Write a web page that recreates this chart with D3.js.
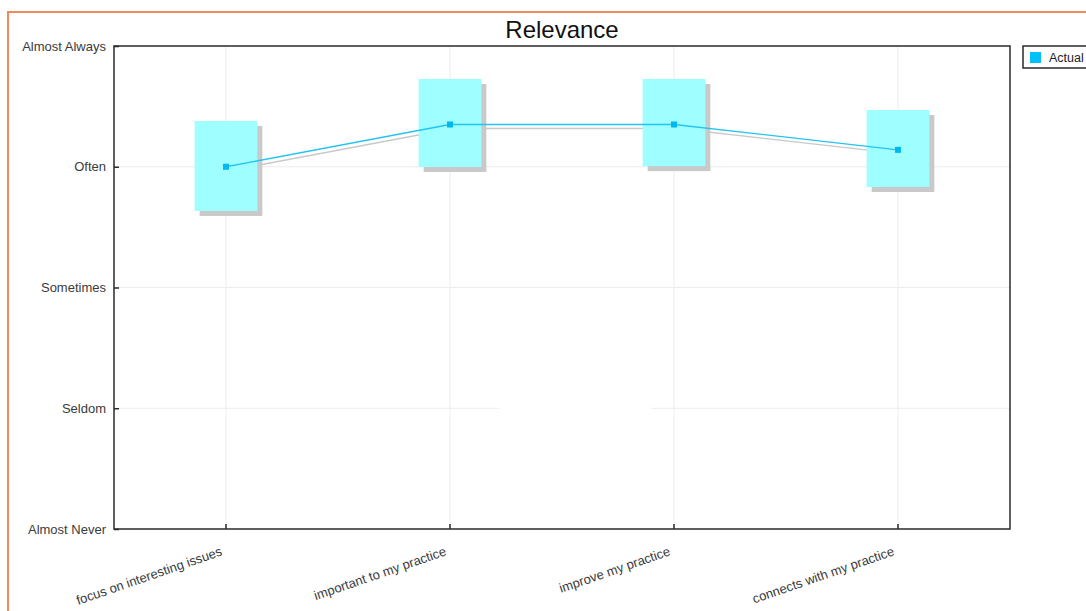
<!DOCTYPE html>
<html><head><meta charset="utf-8">
<script src="https://cdn.jsdelivr.net/npm/d3@7"></script>
<style>
html,body{margin:0;padding:0;background:#fff;}
svg{display:block;font-family:"Liberation Sans",Arial,sans-serif;}
</style></head>
<body>
<script>
const title = "Relevance";
const categories = ["focus on interesting issues","important to my practice","improve my practice","connects with my practice"];
const levelLabels = ["Almost Never","Seldom","Sometimes","Often","Almost Always"];
const actual = [3.0, 3.35, 3.35, 3.14];
const rangeLow = [2.634, 2.998, 3.005, 2.832];
const rangeHigh = [3.379, 3.727, 3.727, 3.470];
const seriesName = "Actual";

const W = 1086, H = 611;
const m = {left:114, top:46, right:1010, bottom:529};
const svg = d3.select("body").append("svg").attr("width",W).attr("height",H);

// outer orange frame
svg.append("path").attr("d",`M8,${H} L8,12 L${W},12`).attr("fill","none").attr("stroke","#f08a5b").attr("stroke-width",2);

const x = d3.scaleBand().domain(categories).range([m.left,m.right]).padding(0);
const y = d3.scaleLinear().domain([0,4]).range([m.bottom,m.top]);
const cx = c => x(c)+x.bandwidth()/2;

// grid
const g = svg.append("g");
g.selectAll("line.vg").data(categories).join("line")
  .attr("x1",d=>cx(d)).attr("x2",d=>cx(d)).attr("y1",m.top).attr("y2",m.bottom)
  .attr("stroke","#ececec").attr("stroke-width",1);
g.selectAll("line.hg").data(d3.range(1,4)).join("line")
  .attr("x1",m.left).attr("x2",m.right).attr("y1",d=>y(d)).attr("y2",d=>y(d))
  .attr("stroke","#ececec").attr("stroke-width",1);
// gap artifact in "Seldom" gridline
g.append("rect").attr("x",x(categories[1])+x.bandwidth()*0.72).attr("width",x.bandwidth()*0.68)
  .attr("y",y(1)-2).attr("height",4).attr("fill","#fff");

const bw = x.bandwidth()*0.28;
const sh = 5;
// box shadows
svg.selectAll("rect.bs").data(categories).join("rect")
  .attr("x",(d,i)=>cx(d)-bw/2+sh).attr("y",(d,i)=>y(rangeHigh[i])+sh)
  .attr("width",bw).attr("height",(d,i)=>y(rangeLow[i])-y(rangeHigh[i]))
  .attr("fill","#c9c9c9");
// line shadow
const line = d3.line().x((d,i)=>cx(categories[i])).y(d=>y(d));
svg.append("path").attr("d",line(actual)).attr("transform","translate(3,4)")
  .attr("fill","none").attr("stroke","#c8c8c8").attr("stroke-width",1.3);
// boxes
svg.selectAll("rect.bx").data(categories).join("rect")
  .attr("x",d=>cx(d)-bw/2).attr("y",(d,i)=>y(rangeHigh[i]))
  .attr("width",bw).attr("height",(d,i)=>y(rangeLow[i])-y(rangeHigh[i]))
  .attr("fill","#9ffeff");
// line
svg.append("path").attr("d",line(actual))
  .attr("fill","none").attr("stroke","#22c4f2").attr("stroke-width",1.3);
svg.selectAll("rect.mk").data(actual).join("rect")
  .attr("x",(d,i)=>cx(categories[i])-3).attr("y",d=>y(d)-3)
  .attr("width",6).attr("height",6).attr("fill","#00b8ee");

// frame
svg.append("rect").attr("x",m.left).attr("y",m.top).attr("width",m.right-m.left).attr("height",m.bottom-m.top)
  .attr("fill","none").attr("stroke","#2a2a2a").attr("stroke-width",1.5);

// y axis
const ya = svg.append("g").attr("transform",`translate(${m.left},0)`)
  .call(d3.axisLeft(y).tickValues(d3.range(0,5)).tickFormat(i=>levelLabels[i]).tickSizeInner(-5).tickSizeOuter(0).tickPadding(8));
ya.select(".domain").remove();
ya.selectAll(".tick line").attr("stroke","#2a2a2a").attr("stroke-width",1.5);
ya.selectAll(".tick text").attr("font-size","13px").attr("fill","#3a3a3a").attr("font-family","Liberation Sans, Arial, sans-serif");

// x axis
const xa = svg.append("g").attr("transform",`translate(0,${m.bottom})`)
  .call(d3.axisBottom(x).tickSizeInner(-5).tickSizeOuter(0).tickPadding(0));
xa.select(".domain").remove();
xa.selectAll(".tick line").attr("stroke","#2a2a2a").attr("stroke-width",1.5);
xa.selectAll(".tick text").attr("font-size","13px").attr("fill","#3a3a3a")
  .attr("font-family","Liberation Sans, Arial, sans-serif")
  .attr("text-anchor","end").attr("dy",null).attr("y",null)
  .attr("transform","translate(-3,26) rotate(-19)");

// title
svg.append("text").attr("x",(m.left+m.right)/2+0).attr("y",38).attr("text-anchor","middle")
  .attr("font-size","24px").attr("fill","#111").text(title);

// legend
const lg = svg.append("g").attr("transform","translate(1023,46)");
lg.append("rect").attr("width",80).attr("height",22).attr("fill","#fff").attr("stroke","#2a2a2a").attr("stroke-width",1.5);
lg.append("rect").attr("x",7).attr("y",6).attr("width",11).attr("height",11).attr("fill","#00c0f8");
lg.append("text").attr("x",26).attr("y",15.5).attr("font-size","12.5px").attr("fill","#222").text(seriesName);
</script>
</body></html>
